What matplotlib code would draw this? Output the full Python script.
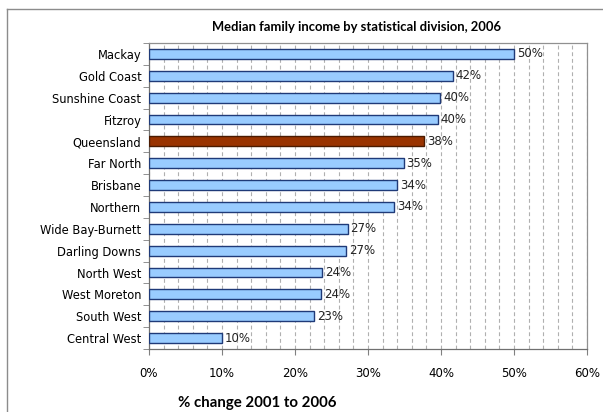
import matplotlib
matplotlib.use("Agg")
import matplotlib.pyplot as plt
from matplotlib.ticker import MultipleLocator, FuncFormatter
from matplotlib.lines import Line2D

divisions = ["Mackay", "Gold Coast", "Sunshine Coast", "Fitzroy", "Queensland",
             "Far North", "Brisbane", "Northern", "Wide Bay-Burnett", "Darling Downs",
             "North West", "West Moreton", "South West", "Central West"]
change = [50.0, 41.6, 39.9, 39.6, 37.7, 34.9, 34.0, 33.6, 27.2, 27.0, 23.7, 23.6, 22.6, 10.0]
highlight = "Queensland"

fig = plt.figure(figsize=(6.03, 4.12), dpi=100)
ax = fig.add_axes([149/603, 1 - 349/412, 438/603, 306/412])

ypos = list(range(len(divisions)))
colors = ["#993300" if d == highlight else "#99CCFF" for d in divisions]
edges = ["#4a1a00" if d == highlight else "#1F3A78" for d in divisions]
ax.barh(ypos, change, height=0.45, color=colors, edgecolor=edges, linewidth=1.0, zorder=3)

for y, v in zip(ypos, change):
    ax.annotate(f"{v:.0f}%", (v, y), xytext=(2, 0), textcoords="offset points",
                va="center", ha="left", fontsize=8.5, color="#222222", zorder=4)

ax.set_xlim(0, 60)
ax.set_ylim(len(divisions) - 0.5, -0.5)
ax.xaxis.set_major_locator(MultipleLocator(10))
ax.xaxis.set_minor_locator(MultipleLocator(2))
ax.xaxis.set_major_formatter(FuncFormatter(lambda v, p: f"{v:.0f}%"))
ax.grid(axis="x", which="both", color="#b0b0b0", linewidth=0.8, dashes=(3.5, 2.5), zorder=0)
ax.tick_params(axis="x", which="major", length=4, color="#808080", labelsize=8.5, pad=9)
ax.tick_params(axis="x", which="minor", length=0)

ax.set_yticks(ypos)
ax.set_yticklabels(divisions)
ax.set_yticks([i + 0.5 for i in range(-1, len(divisions))], minor=True)
ax.tick_params(axis="y", which="major", length=0, labelsize=8.3, pad=5.5)
ax.tick_params(axis="y", which="minor", length=4, color="#808080")

for s in ax.spines.values():
    s.set_color("#909090")
    s.set_linewidth(0.9)
ax.spines["left"].set_color("#707070")
ax.spines["bottom"].set_color("#707070")

fig.text(356/603, 1 - 27/412, "Median family income by statistical division, 2006",
         ha="center", va="center", fontsize=9.4, fontweight="bold", family="Lato")
fig.text(257/603, 1 - 403/412, "% change 2001 to 2006",
         ha="center", va="center", fontsize=10.8, fontweight="bold", family="Lato")

# outer chart frame
fig.add_artist(Line2D([7/603, 7/603], [0, 1 - 9/412], transform=fig.transFigure,
                      color="#8c8c8c", linewidth=1.0))
fig.add_artist(Line2D([7/603, 1], [1 - 9/412, 1 - 9/412], transform=fig.transFigure,
                      color="#8c8c8c", linewidth=1.0))

fig.savefig("out.png", dpi=100)
